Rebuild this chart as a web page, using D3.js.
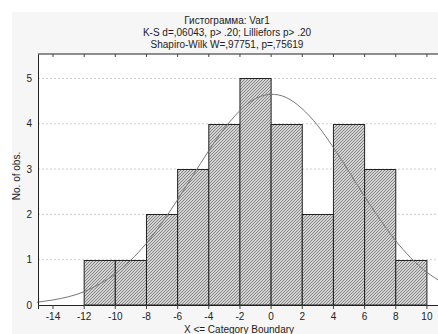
<!DOCTYPE html>
<html>
<head>
<meta charset="utf-8">
<script src="https://cdn.jsdelivr.net/npm/d3@7"></script>
<style>
  body { margin: 0; background: #fff; }
  svg text { font-family: "Liberation Sans", Arial, sans-serif; fill: #222; }
</style>
</head>
<body>
<div id="chart"></div>
<script>
// histogram bins and counts
var binLower = [-12, -10, -8, -6, -4, -2, 0, 2, 4, 6, 8];
var binUpper = [-10, -8, -6, -4, -2, 0, 2, 4, 6, 8, 10];
var counts   = [1, 1, 2, 3, 4, 5, 4, 2, 4, 3, 1];

// expected normal curve
var curveX = [-15, -14, -13, -12, -11, -10, -9, -8, -7, -6, -5, -4, -3, -2, -1, 0, 1, 2, 3, 4, 5, 6, 7, 8, 9, 10, 11];
var curveY = [0.06, 0.11, 0.18, 0.29, 0.46, 0.68, 0.98, 1.35, 1.80, 2.31, 2.85, 3.39, 3.88, 4.28, 4.55, 4.65, 4.58, 4.34, 3.97, 3.49, 2.96, 2.41, 1.90, 1.43, 1.04, 0.73, 0.50];

var xTicks = [-14, -12, -10, -8, -6, -4, -2, 0, 2, 4, 6, 8, 10];
var yTicks = [0, 1, 2, 3, 4, 5];

var titleLines = ["Гистограмма: Var1", "K-S d=,06043, p> .20; Lilliefors p> .20", "Shapiro-Wilk W=,97751, p=,75619"];

var W = 438, H = 334;
var padL = 38, padT = 54, padB = 305, padR = 442;

var svg = d3.select("#chart").append("svg").attr("width", W).attr("height", H);

// light panel behind the graph
svg.append("rect").attr("x", 12).attr("y", 12).attr("width", W).attr("height", H)
    .attr("fill", "#f6f6f6");
svg.append("rect").attr("x", padL).attr("y", padT).attr("width", padR - padL).attr("height", padB - padT)
    .attr("fill", "#fff");

// hatch pattern for the bars
var defs = svg.append("defs");
var pat = defs.append("pattern").attr("id", "hatch").attr("patternUnits", "userSpaceOnUse")
    .attr("width", 3).attr("height", 3);
pat.append("rect").attr("width", 3).attr("height", 3).attr("fill", "#d4d4d4");
pat.append("path").attr("d", "M-1,1 l2,-2 M0,3 l3,-3 M2,4 l2,-2")
    .attr("stroke", "#686868").attr("stroke-width", 0.75);

var x = d3.scaleLinear().domain([-14.93, 11]).range([padL, padR]);
var y = d3.scaleLinear().domain([0, 5.54]).range([padB, padT]);

// title
svg.append("g").selectAll("text").data(titleLines).enter().append("text")
    .attr("x", 227).attr("y", function(d, i) { return 24 + i * 12; })
    .attr("text-anchor", "middle").attr("font-size", "10px").attr("fill", "#333")
    .text(function(d) { return d; });

// gridlines
svg.append("g").selectAll("line").data(yTicks.slice(1)).enter().append("line")
    .attr("x1", padL).attr("x2", padR)
    .attr("y1", function(d) { return y(d); }).attr("y2", function(d) { return y(d); })
    .attr("stroke", "#cfcfcf").attr("stroke-dasharray", "2,2");

// bars
svg.append("g").selectAll("rect").data(counts).enter().append("rect")
    .attr("x", function(d, i) { return x(binLower[i]) + 0.5; })
    .attr("y", function(d) { return Math.round(y(d)) + 0.5; })
    .attr("width", function(d, i) { return x(binUpper[i]) - x(binLower[i]); })
    .attr("height", function(d) { return y(0) - Math.round(y(d)) - 0.5; })
    .attr("fill", "url(#hatch)").attr("stroke", "#222").attr("stroke-width", 1);

// normal curve
var line = d3.line()
    .x(function(d, i) { return x(curveX[i]); })
    .y(function(d) { return y(d); })
    .curve(d3.curveNatural);
svg.append("path").datum(curveY).attr("d", line)
    .attr("fill", "none").attr("stroke", "#777").attr("stroke-width", 1);

// axes
var xAxis = svg.append("g").attr("transform", "translate(0," + padB + ")")
    .call(d3.axisBottom(x).tickValues(xTicks).tickSize(4).tickPadding(4));
var xTop = svg.append("g").attr("transform", "translate(0," + padT + ")")
    .call(d3.axisBottom(x).tickValues(xTicks).tickSize(3).tickFormat(""));
var yAxis = svg.append("g").attr("transform", "translate(" + padL + ",0)")
    .call(d3.axisLeft(y).tickValues(yTicks).tickSize(0).tickPadding(6).tickFormat(d3.format("d")));

[xAxis, xTop, yAxis].forEach(function(a) {
    a.selectAll("path").attr("stroke", "#222");
    a.selectAll("line").attr("stroke", "#444");
    a.selectAll("text").attr("font-family", "Liberation Sans, Arial, sans-serif")
        .attr("font-size", "10px").attr("fill", "#333");
});
xAxis.selectAll("text").text(function(d) { return d < 0 ? "-" + Math.abs(d) : d; });
xTop.select("path").attr("d", "M" + padL + ",0H" + padR);

// axis titles
svg.append("text").attr("x", 239).attr("y", 333).attr("text-anchor", "middle")
    .attr("font-size", "10px").attr("fill", "#333").text("X <= Category Boundary");
svg.append("text").attr("transform", "translate(20,176) rotate(-90)")
    .attr("text-anchor", "middle").attr("font-size", "10px").attr("fill", "#333").text("No. of obs.");
</script>
</body>
</html>
